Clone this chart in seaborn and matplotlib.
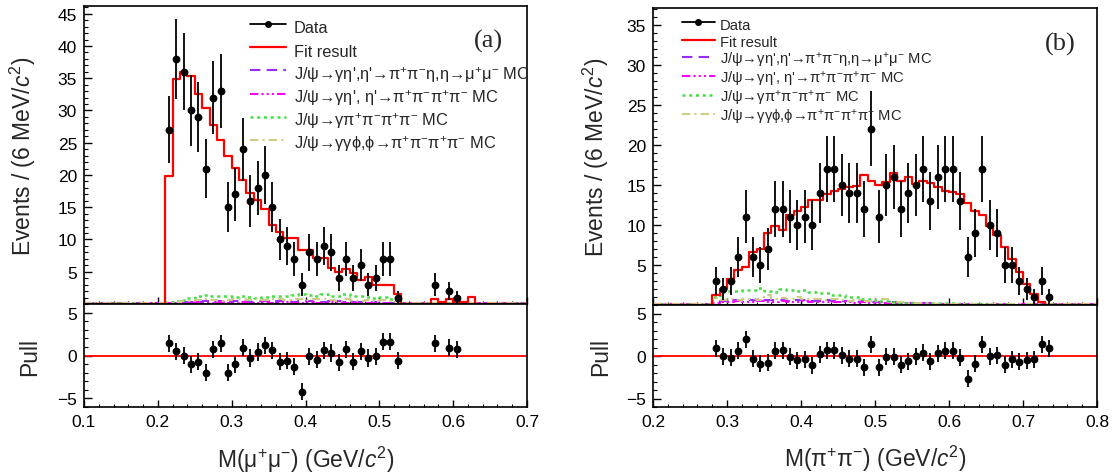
import numpy as np
import pandas as pd
import matplotlib
matplotlib.use("Agg")
import matplotlib.pyplot as plt
import seaborn as sns
from matplotlib.lines import Line2D
from matplotlib.ticker import MultipleLocator, FixedLocator

# ---------------- data : panel (a)  M(mu+ mu-) ----------------
a_x = [0.215, 0.225, 0.235, 0.245, 0.255, 0.265, 0.275, 0.285, 0.295, 0.305,
       0.315, 0.325, 0.335, 0.345, 0.355, 0.365, 0.375, 0.385, 0.395, 0.405,
       0.415, 0.425, 0.435, 0.445, 0.455, 0.465, 0.475, 0.485, 0.495, 0.505,
       0.515, 0.525, 0.575, 0.595, 0.605]
a_counts = [27, 38, 36, 30, 29, 21, 32, 33, 15, 17,
            24, 16, 18, 20, 15, 10, 9, 7, 3, 8,
            7, 9, 8, 4, 7, 4, 6, 3, 4, 7,
            7, 1, 3, 2, 1]
a_pull = [1.4, 0.5, 0.0, -1.0, -0.7, -2.0, 0.7, 1.4, -2.0, -1.0,
          0.9, -0.3, 0.4, 1.2, 0.6, -0.7, -0.6, -1.3, -4.2, -0.1,
          -0.5, 0.6, 0.3, -0.8, 0.7, -0.7, 0.5, -0.3, -0.1, 1.6,
          1.6, -0.6, 1.4, 0.9, 0.7]
a_bin_lo = 0.10   # histogram bins of 0.01 from 0.10 to 0.70
a_fit = [0, 0, 0, 0, 0, 0, 0, 0, 0, 0, 0,
         19.8, 34.9, 36.0, 35.3, 32.6, 30.4, 27.7, 25.4, 23.0, 21.1,
         19.3, 17.2, 16.2, 14.8, 12.3, 11.2, 10.3, 10.3, 8.4, 8.4,
         7.2, 7.2, 5.6, 5.0, 5.5, 4.8, 3.7, 4.2, 3.0, 3.0,
         3.0, 1.6, 0, 0, 0, 0, 0.7, 0.35, 0.7, 0.35,
         0.35, 1.1, 0, 0, 0, 0, 0, 0, 0]
a_mc_etamumu = [0.1, 0.1, 0.1, 0.1, 0.1, 0.1, 0.1, 0.1, 0.1, 0.1, 0.1,
                0.1, 0.2, 0.3, 0.3, 0.3, 0.4, 0.3, 0.4, 0.3, 0.4,
                0.4, 0.3, 0.4, 0.4, 0.3, 0.4, 0.4, 0.3, 0.4, 0.4,
                0.3, 0.3, 0.4, 0.4, 0.3, 0.3, 0.3, 0.2, 0.3, 0.2,
                0.2, 0.1, 0.1, 0.1, 0.1, 0.1, 0.1, 0.1, 0.1, 0.1,
                0.1, 0.1, 0.1, 0.1, 0.1, 0.1, 0.1, 0.1, 0.1]
a_mc_eta4pi = [0.1, 0.1, 0.1, 0.1, 0.1, 0.1, 0.1, 0.1, 0.1, 0.1, 0.1,
               0.1, 0.2, 0.2, 0.2, 0.3, 0.2, 0.2, 0.3, 0.2, 0.2,
               0.3, 0.2, 0.2, 0.3, 0.2, 0.2, 0.3, 0.2, 0.2, 0.3,
               0.2, 0.2, 0.3, 0.2, 0.2, 0.3, 0.2, 0.2, 0.2, 0.2,
               0.2, 0.1, 0.1, 0.1, 0.1, 0.1, 0.1, 0.1, 0.1, 0.1,
               0.1, 0.1, 0.1, 0.1, 0.1, 0.1, 0.1, 0.1, 0.1]
a_mc_4pi = [0.1, 0.1, 0.1, 0.1, 0.1, 0.1, 0.1, 0.1, 0.1, 0.1, 0.1,
            0.3, 0.4, 0.6, 0.9, 1.2, 1.4, 1.3, 1.2, 1.2, 1.1,
            1.2, 1.1, 1.0, 1.1, 1.2, 1.3, 1.3, 1.4, 1.5, 1.4,
            1.3, 1.5, 1.2, 1.3, 1.5, 1.2, 1.3, 1.1, 1.0, 1.1,
            0.8, 0.5, 0.2, 0.1, 0.1, 0.1, 0.1, 0.1, 0.1, 0.1,
            0.1, 0.1, 0.1, 0.1, 0.1, 0.1, 0.1, 0.1, 0.1]
a_mc_phi = [0.1, 0.1, 0.1, 0.1, 0.1, 0.1, 0.1, 0.1, 0.1, 0.1, 0.1,
            0.2, 0.3, 0.4, 0.5, 0.6, 0.7, 0.6, 0.5, 0.6, 0.7,
            0.8, 0.6, 0.7, 0.6, 0.8, 0.7, 0.6, 0.8, 0.7, 0.6,
            0.7, 0.8, 0.6, 0.5, 0.7, 0.6, 0.5, 0.6, 0.5, 0.6,
            0.5, 0.3, 0.2, 0.1, 0.1, 0.1, 0.1, 0.1, 0.1, 0.1,
            0.1, 0.1, 0.1, 0.1, 0.1, 0.1, 0.1, 0.1, 0.1]

# ---------------- data : panel (b)  M(pi+ pi-) ----------------
b_x = [0.285, 0.295, 0.305, 0.315, 0.325, 0.335, 0.345, 0.355, 0.365, 0.375,
       0.385, 0.395, 0.405, 0.415, 0.425, 0.435, 0.445, 0.455, 0.465, 0.475,
       0.485, 0.495, 0.505, 0.515, 0.525, 0.535, 0.545, 0.555, 0.565, 0.575,
       0.585, 0.595, 0.605, 0.615, 0.625, 0.635, 0.645, 0.655, 0.665, 0.675,
       0.685, 0.695, 0.705, 0.715, 0.725, 0.735]
b_counts = [3, 2, 3, 6, 11, 6, 5, 7, 12, 12,
            11, 10, 11, 10, 14, 17, 17, 15, 14, 14,
            12, 22, 11, 15, 16, 12, 14, 15, 17, 13,
            16, 17, 17, 13, 6, 9, 17, 10, 9, 5,
            5, 3, 2, 1, 3, 1]
b_pull = [0.9, 0.0, -0.2, 0.6, 2.0, -0.3, -0.9, -0.8, 0.6, 0.7,
          -0.1, -0.5, -0.4, -1.1, 0.2, 0.7, 0.7, 0.1, -0.3, -0.3,
          -1.3, 1.4, -1.3, -0.1, -0.1, -1.0, -0.6, 0.0, 0.4, -0.6,
          0.3, 0.6, 0.6, -0.2, -2.7, -0.9, 1.4, 0.0, 0.1, -1.0,
          -0.4, -0.7, -0.5, -0.4, 1.4, 0.9]
b_bin_lo = 0.20   # histogram bins of 0.01 from 0.20 to 0.80
b_fit = [0, 0, 0, 0, 0, 0, 0, 0,
         1.25, 2.0, 3.3, 4.4, 4.7, 6.6, 7.0, 9.0, 9.9, 9.4,
         11.2, 11.7, 12.3, 13.1, 13.1, 13.9, 14.3, 14.5, 14.8, 14.9,
         16.2, 15.5, 15.0, 15.4, 16.5, 15.5, 16.0, 15.1, 15.5, 15.3,
         14.7, 14.2, 14.1, 13.9, 12.7, 11.8, 11.2, 9.9, 8.7, 7.2,
         5.8, 4.1, 2.6, 1.4, 0.4, 0.05, 0, 0, 0, 0, 0, 0]
b_mc_etamumu = [0.1, 0.1, 0.1, 0.1, 0.1, 0.1, 0.1, 0.1,
                0.3, 0.5, 0.6, 0.6, 0.6, 0.6, 0.7, 0.6, 0.6, 0.6,
                0.5, 0.6, 0.6, 0.5, 0.5, 0.6, 0.5, 0.5, 0.5, 0.4,
                0.5, 0.4, 0.4, 0.4, 0.4, 0.3, 0.3, 0.3, 0.2, 0.2,
                0.1, 0.1, 0.1, 0.1, 0.1, 0.1, 0.1, 0.1, 0.1, 0.1,
                0.1, 0.1, 0.1, 0.1, 0.1, 0.1, 0.1, 0.1, 0.1, 0.1, 0.1, 0.1]
b_mc_eta4pi = [0.1, 0.1, 0.1, 0.1, 0.1, 0.1, 0.1, 0.1,
               0.2, 0.4, 0.4, 0.5, 0.4, 0.4, 0.5, 0.4, 0.4, 0.5,
               0.4, 0.4, 0.5, 0.4, 0.4, 0.4, 0.4, 0.4, 0.4, 0.3,
               0.4, 0.3, 0.3, 0.3, 0.3, 0.2, 0.2, 0.2, 0.2, 0.2,
               0.1, 0.1, 0.1, 0.1, 0.1, 0.1, 0.1, 0.1, 0.1, 0.1,
               0.1, 0.1, 0.1, 0.1, 0.1, 0.1, 0.1, 0.1, 0.1, 0.1, 0.1, 0.1]
b_mc_4pi = [0.1, 0.1, 0.1, 0.1, 0.1, 0.1, 0.1, 0.1,
            1.0, 1.6, 1.7, 1.7, 1.9, 1.9, 2.1, 1.8, 1.6, 2.0,
            1.9, 1.8, 1.9, 1.6, 1.5, 1.5, 1.3, 1.2, 1.05, 1.0,
            0.8, 0.7, 0.5, 0.5, 0.4, 0.3, 0.3, 0.3, 0.2, 0.2,
            0.2, 0.2, 0.2, 0.1, 0.1, 0.1, 0.1, 0.1, 0.1, 0.1,
            0.1, 0.1, 0.1, 0.1, 0.1, 0.1, 0.1, 0.1, 0.1, 0.1, 0.1, 0.1]
b_mc_phi = [0.1, 0.1, 0.1, 0.1, 0.1, 0.1, 0.1, 0.1,
            0.9, 0.6, 0.7, 0.6, 0.8, 0.7, 0.6, 1.3, 0.7, 0.9,
            0.7, 1.0, 0.8, 0.7, 0.8, 0.6, 0.7, 0.6, 0.5, 0.6,
            0.5, 0.5, 0.5, 0.8, 0.4, 0.4, 0.3, 0.3, 0.2, 0.2,
            0.1, 0.1, 0.1, 0.1, 0.1, 0.1, 0.1, 0.1, 0.1, 0.1,
            0.1, 0.1, 0.1, 0.1, 0.1, 0.1, 0.1, 0.1, 0.1, 0.1, 0.1, 0.1]

P = "$^{+}$"
M = "$^{-}$"
legend_labels = ["Data", "Fit result",
                 f"J/ψ→γη',η'→π{P}π{M}η,η→μ{P}μ{M} MC",
                 f"J/ψ→γη', η'→π{P}π{M}π{P}π{M} MC",
                 f"J/ψ→γπ{P}π{M}π{P}π{M} MC",
                 f"J/ψ→γγϕ,ϕ→π{P}π{M}π{P}π{M} MC"]

# ---------------- style ----------------
sns.set_theme(style="ticks")
plt.rcParams["font.family"] = ["Liberation Sans", "DejaVu Sans"]
plt.rcParams["mathtext.fontset"] = "custom"
plt.rcParams["mathtext.rm"] = "Liberation Sans"
plt.rcParams["mathtext.it"] = "Liberation Sans:italic"
plt.rcParams["mathtext.bf"] = "Liberation Sans:bold"
plt.rcParams["mathtext.fallback"] = "stixsans"
plt.rcParams["axes.linewidth"] = 1.2

RED = "#ff0000"
PURPLE = "#9a2cff"
MAGENTA = "#ff00ff"
GREEN = "#44dd44"
KHAKI = "#cccc88"
styles = {
    "etamumu": dict(color=PURPLE, linestyle=(0, (5, 3)), linewidth=1.5),
    "eta4pi": dict(color=MAGENTA, linestyle=(0, (4, 1.5, 1, 1.5, 1, 1.5, 1, 1.5)), linewidth=1.5),
    "4pi": dict(color=GREEN, linestyle=(0, (1.2, 1.5)), linewidth=1.8),
    "phi": dict(color=KHAKI, linestyle=(0, (4, 2, 1, 2)), linewidth=1.5),
}


def step(ax, lo, values, **kw):
    n = len(values)
    edges = [round(lo + 0.01 * i, 4) for i in range(n + 1)]
    df = pd.DataFrame({
        "m": [round(lo + 0.01 * i + 0.005, 4) for i in range(n)],
        "w": [float(v) for v in values],
    })
    sns.histplot(data=df, x="m", weights="w", bins=edges, element="step",
                 fill=False, ax=ax, **kw)


fig = plt.figure(figsize=(11.16, 4.77), dpi=100)
W, H = 1116.0, 477.0


def axes_px(x0, y0, x1, y1):
    return fig.add_axes([x0 / W, (H - y1) / H, (x1 - x0) / W, (y1 - y0) / H])


panels = [
    dict(main=(84, 7, 527, 305), pull=(84, 305, 527, 408), lo=a_bin_lo,
         x=a_x, n=a_counts, pull_v=a_pull, fit=a_fit,
         mc=[a_mc_etamumu, a_mc_eta4pi, a_mc_4pi, a_mc_phi],
         xlim=(0.1, 0.7), ylim=(0, 46.2), yticks=[5, 10, 15, 20, 25, 30, 35, 40, 45],
         xlabel="M(μ$^{+}$μ$^{-}$) (GeV/$c^{2}$)", tag="(a)", tagpos=(0.914, 0.883),
         leg_anchor=(0.375, 0.968), leg_fs=11.8, leg_hh=1.8, leg_hl=2.2, leg_tp=0.45,
         ylab_x=-0.138, pull_lab_x=-0.122),
    dict(main=(653, 9, 1097, 306), pull=(653, 306, 1097, 408), lo=b_bin_lo,
         x=b_x, n=b_counts, pull_v=b_pull, fit=b_fit,
         mc=[b_mc_etamumu, b_mc_eta4pi, b_mc_4pi, b_mc_phi],
         xlim=(0.2, 0.8), ylim=(0, 37.1), yticks=[5, 10, 15, 20, 25, 30, 35],
         xlabel="M(π$^{+}$π$^{-}$) (GeV/$c^{2}$)", tag="(b)", tagpos=(0.917, 0.882),
         leg_anchor=(0.066, 0.974), leg_fs=10.6, leg_hh=1.42, leg_hl=2.2, leg_tp=0.35,
         ylab_x=-0.128, pull_lab_x=-0.117),
]

for p in panels:
    ax = axes_px(*p["main"])
    axp = axes_px(*p["pull"])

    keys = ["etamumu", "eta4pi", "4pi", "phi"]
    for key, vals in zip(keys, p["mc"]):
        step(ax, p["lo"], vals, **styles[key])
    step(ax, p["lo"], p["fit"], color=RED, linewidth=1.6)

    counts = np.asarray(p["n"], dtype=float)
    ax.errorbar(p["x"], counts, yerr=np.sqrt(counts), fmt="o", color="black",
                ms=4.6, elinewidth=1.3, capsize=0, zorder=5)

    ax.set_xlim(*p["xlim"])
    ax.set_ylim(*p["ylim"])
    ax.xaxis.set_major_locator(MultipleLocator(0.1))
    ax.xaxis.set_minor_locator(MultipleLocator(0.02))
    ax.yaxis.set_major_locator(FixedLocator(p["yticks"]))
    ax.yaxis.set_minor_locator(MultipleLocator(1))
    ax.tick_params(axis="x", which="both", labelbottom=False)
    ax.set_xlabel("")
    ax.set_ylabel("Events / (6 MeV/$c^{2}$)", fontsize=16.5, va="center")
    ax.yaxis.set_label_coords(p["ylab_x"], 0.5)

    # pull panel
    axp.axhline(0, color=RED, linewidth=1.3, zorder=1)
    axp.errorbar(p["x"], p["pull_v"], yerr=np.ones(len(p["pull_v"])), fmt="o",
                 color="black", ms=4.6, elinewidth=1.3, capsize=0, zorder=5)
    axp.set_xlim(*p["xlim"])
    axp.set_ylim(-6, 6)
    axp.xaxis.set_major_locator(MultipleLocator(0.1))
    axp.xaxis.set_minor_locator(MultipleLocator(0.02))
    axp.yaxis.set_major_locator(FixedLocator([-5, 0, 5]))
    axp.yaxis.set_minor_locator(MultipleLocator(1))
    axp.xaxis.set_major_formatter(matplotlib.ticker.FormatStrFormatter("%.1f"))
    axp.set_ylabel("Pull", fontsize=16.5, va="center")
    axp.yaxis.set_label_coords(p["pull_lab_x"], 0.5)
    axp.set_xlabel(p["xlabel"], fontsize=16.5)
    axp.xaxis.set_label_coords(0.5, -0.50)
    axp.xaxis.label.set_va("center")

    for a in (ax, axp):
        a.tick_params(which="both", direction="in", top=False, right=False,
                      labelsize=12.5, colors="black")
        a.tick_params(axis="y", which="major", length=6, width=1.0, pad=5)
        a.tick_params(axis="y", which="minor", length=3, width=0.8)
        a.tick_params(axis="x", which="major", length=5, width=1.0, pad=5)
        a.tick_params(axis="x", which="minor", length=2.5, width=0.8)
        for s in a.spines.values():
            s.set_color("black")
            s.set_linewidth(1.2)

    ax.text(p["tagpos"][0], p["tagpos"][1], p["tag"], transform=ax.transAxes,
            ha="center", va="center", fontsize=19, family="Liberation Serif")

    handles = [
        Line2D([], [], color="black", marker="o", ms=4, linewidth=1.3),
        Line2D([], [], color=RED, linewidth=1.6),
        Line2D([], [], **styles["etamumu"]),
        Line2D([], [], **styles["eta4pi"]),
        Line2D([], [], **styles["4pi"]),
        Line2D([], [], **styles["phi"]),
    ]
    ax.legend(handles, legend_labels, loc="upper left", bbox_to_anchor=p["leg_anchor"],
              frameon=False, fontsize=p["leg_fs"], labelspacing=0.0,
              handleheight=p["leg_hh"],
              handlelength=p["leg_hl"], handletextpad=p["leg_tp"],
              borderpad=0, borderaxespad=0, numpoints=1)

fig.savefig("out.png", dpi=100)
